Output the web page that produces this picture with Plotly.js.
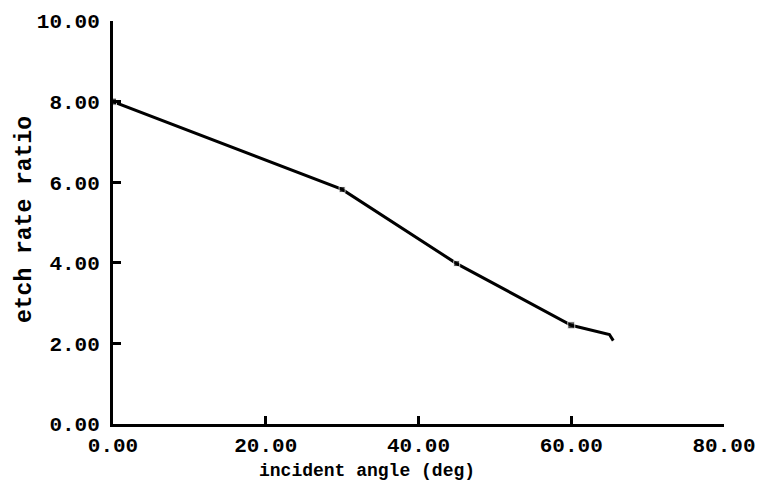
<!DOCTYPE html>
<html>
<head>
<meta charset="utf-8">
<script src="https://cdn.plot.ly/plotly-3.0.1.min.js"></script>
<style>html,body{margin:0;padding:0;background:#fff;}#chart{width:762px;height:490px;}</style>
</head>
<body>
<div id="chart"></div>
<script>
const angleDeg = [0, 30, 45, 60, 65, 65.5];
const etchRatio = [8.0, 5.82, 3.98, 2.45, 2.22, 2.07];
const markerSizes = [7, 6, 6, 7, 0, 0];
const xTickVals = [0, 20, 40, 60, 80];
const xTickText = ["0.00", "20.00", "40.00", "60.00", "80.00"];
const yTickVals = [0, 2, 4, 6, 8, 10];
const yTickText = ["0.00", "2.00", "4.00", "6.00", "8.00", "10.00"];
const xTitle = "incident angle (deg)";
const yTitle = "etch rate ratio";

const monoFam = "Liberation Mono, Courier New, monospace";
const tickFont = {family: monoFam, size: 21, color: "#000", weight: "bold"};

const trace = {
  x: angleDeg, y: etchRatio, type: "scatter", mode: "lines+markers",
  line: {color: "#000", width: 3},
  marker: {color: "#000", size: markerSizes, symbol: "square"},
  hoverinfo: "skip"
};

const layout = {
  width: 762, height: 490,
  margin: {l: 113, r: 38, t: 21, b: 66},
  paper_bgcolor: "#fff", plot_bgcolor: "#fff",
  showlegend: false,
  xaxis: {
    range: [0, 80], tickvals: xTickVals, ticktext: xTickText,
    ticks: "inside", ticklen: 8, tickwidth: 3, tickcolor: "#000",
    showline: true, linewidth: 3, linecolor: "#000",
    showgrid: false, zeroline: false, tickfont: tickFont, ticklabelstandoff: 0
  },
  yaxis: {
    range: [0, 10], tickvals: yTickVals, ticktext: yTickText,
    ticks: "inside", ticklen: 8, tickwidth: 3, tickcolor: "#000",
    showline: true, linewidth: 3, linecolor: "#000",
    showgrid: false, zeroline: false, tickfont: tickFont, ticklabelstandoff: 6
  },
  annotations: [
    {text: xTitle, xref: "paper", yref: "paper", x: (367 - 113) / 611, y: -(471 - 424) / 403,
     xanchor: "center", yanchor: "middle", showarrow: false,
     font: {family: monoFam, size: 18, color: "#000", weight: "bold"}},
    {text: yTitle, xref: "paper", yref: "paper", x: (25 - 113) / 611, y: (424 - 220) / 403,
     xanchor: "center", yanchor: "middle", textangle: -90, showarrow: false,
     font: {family: monoFam, size: 23, color: "#000", weight: "bold"}}
  ]
};

Plotly.newPlot("chart", [trace], layout, {staticPlot: true, displayModeBar: false});
</script>
</body>
</html>
